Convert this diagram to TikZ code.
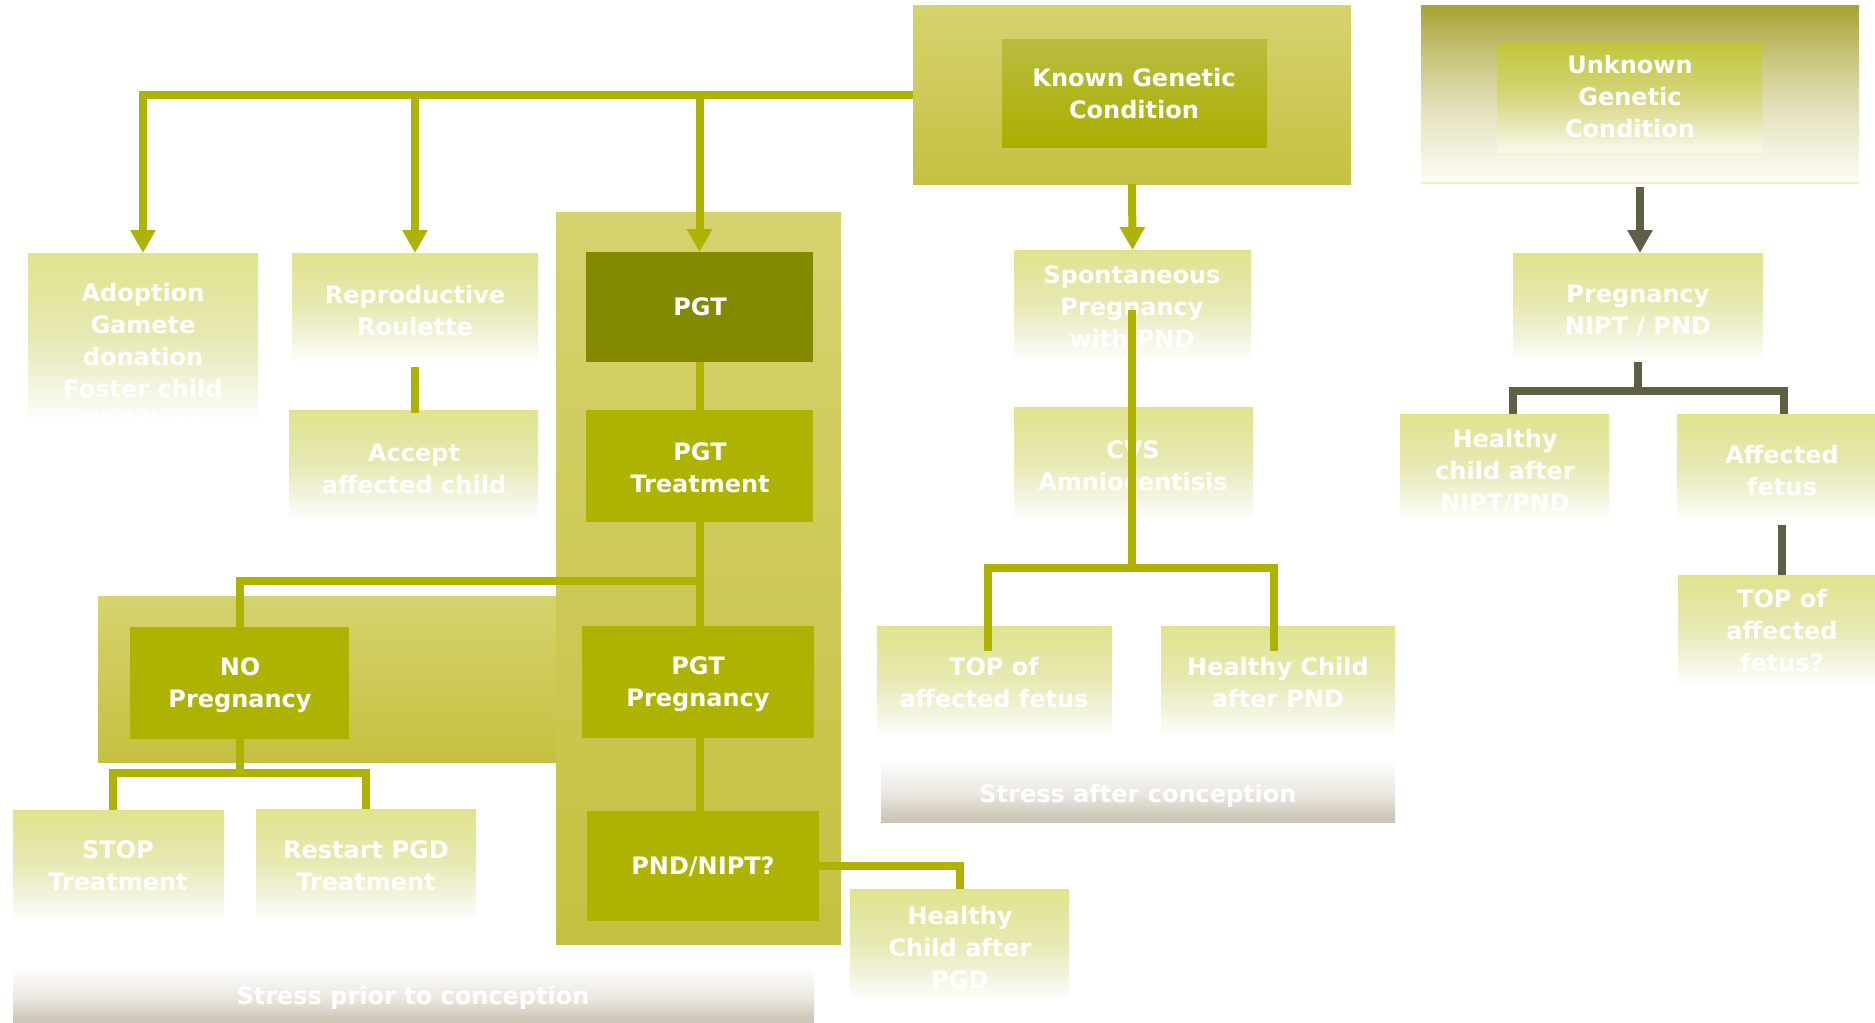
\documentclass[tikz,border=0pt]{standalone}
\usepackage{fontspec}
\setmainfont{DejaVu Sans}
\usetikzlibrary{arrows.meta,fit,calc}

% palette
\definecolor{cOlive}{HTML}{ADB300}
\definecolor{cDark}{HTML}{838A00}
\definecolor{cGrey}{HTML}{5E5F45}
\definecolor{cLight}{HTML}{E0E38D}
\definecolor{cFadeB}{HTML}{E7E9B2}
\definecolor{cFadeA}{HTML}{F3F4DE}
\definecolor{cStress}{HTML}{CBC3B3}
\definecolor{cStressB}{HTML}{D4CEC1}
\definecolor{cStressA}{HTML}{EAE7E0}
\definecolor{cWrapTop}{HTML}{D5D36E}
\definecolor{cWrapMid}{HTML}{D2D14F}
\definecolor{cWrapBot}{HTML}{C4C141}
\definecolor{cKnownTop}{HTML}{B9BD40}
\definecolor{cKnownBot}{HTML}{AAAF00}
\definecolor{cUnkTop}{HTML}{A6A236}
\definecolor{cUnkB}{HTML}{C9C67E}
\definecolor{cUnkA}{HTML}{E5E3BF}
\definecolor{cUnkEnd}{HTML}{FDFDF5}
\definecolor{cUnkLine}{HTML}{F1EEC8}
\definecolor{cUinTop}{HTML}{C1C539}
\definecolor{cUinMid}{HTML}{D6D67E}
\definecolor{cUinEnd}{HTML}{F9F9EE}

% pale boxes fading to white towards the bottom
\pgfdeclareverticalshading{lightfade}{100bp}{color(0bp)=(white); color(25bp)=(white);
  color(36bp)=(cFadeA); color(51bp)=(cFadeB); color(75bp)=(cLight); color(100bp)=(cLight)}
% "stress" bands: white on top, warm grey at the bottom
\pgfdeclareverticalshading{stressfade}{100bp}{color(0bp)=(cStress); color(25bp)=(cStress);
  color(31bp)=(cStressB); color(42bp)=(cStressA); color(63bp)=(white); color(100bp)=(white)}
% unknown-condition panel
\pgfdeclareverticalshading{unkfade}{100bp}{color(0bp)=(cUnkEnd); color(25bp)=(cUnkEnd);
  color(45bp)=(cUnkA); color(60bp)=(cUnkB); color(75bp)=(cUnkTop); color(100bp)=(cUnkTop)}
\pgfdeclareverticalshading{uinfade}{100bp}{color(0bp)=(cUinEnd); color(25bp)=(cUinEnd);
  color(50bp)=(cUinMid); color(75bp)=(cUinTop); color(100bp)=(cUinTop)}

\tikzset{
  area/.style={inner sep=0pt, outer sep=0pt, draw=none},
  wrapbox/.style={area, top color=cWrapTop, middle color=cWrapMid, bottom color=cWrapBot},
  solidbox/.style={area, fill=cOlive},
  darkbox/.style={area, fill=cDark},
  knownbox/.style={area, top color=cKnownTop, bottom color=cKnownBot},
  lightbox/.style={area, shading=lightfade},
  stressbox/.style={area, shading=stressfade},
  unkbox/.style={area, shading=unkfade},
  uinbox/.style={area, shading=uinfade},
  lbl/.style={inner sep=0pt, text=white, align=center,
    font=\bfseries\fontsize{12}{16}\selectfont},
  conn/.style={draw=cOlive, line width=4pt},
  arr/.style={conn, -{Triangle[width=12pt,length=11.5pt]}},
  dconn/.style={draw=cGrey, line width=4pt},
  darr/.style={dconn, -{Triangle[width=12pt,length=11.5pt]}},
}

\begin{document}
\begin{tikzpicture}[x=0.5pt,y=-0.5pt]
\useasboundingbox (0,0) rectangle (1875,1023);
\fill[white] (0,0) rectangle (1875,1023);

% ---- container panels
\node[wrapbox, fit={(913,5) (1351,184)}] (known) {};
\node[wrapbox, fit={(556,212) (841,944)}] (pgtcol) {};
\node[wrapbox, fit={(98,596) (556,762)}] (nowrap) {};
\node[unkbox, fit={(1421,5) (1859,183)}] (unk) {};
\draw[cUnkLine, line width=1pt] (unk.south west) -- (unk.south east);

% ---- strong boxes
\node[knownbox, fit={(1002,39) (1267,147)}] (knownin) {};
\node[uinbox, fit={(1497,43) (1762,152)}] (unkin) {};
\node[darkbox, fit={(586,252) (813,362)}] (pgt) {};
\node[solidbox, fit={(586,410) (813,522)}] (pgtt) {};
\node[solidbox, fit={(582,626) (814,738)}] (pgtp) {};
\node[solidbox, fit={(587,811) (819,921)}] (pnd) {};
\node[solidbox, fit={(130,627) (349,739)}] (nopreg) {};

% ---- pale boxes
\node[lightbox, fit={(28,253) (258,423)}] (adopt) {};
\node[lightbox, fit={(292,253) (538,363)}] (roul) {};
\node[lightbox, fit={(289,410) (538,520)}] (accept) {};
\node[lightbox, fit={(1014,250) (1251,360)}] (spont) {};
\node[lightbox, fit={(1014,407) (1253,520)}] (cvs) {};
\node[lightbox, fit={(877,626) (1112,737)}] (topf) {};
\node[lightbox, fit={(1161,626) (1395,737)}] (hcpnd) {};
\node[lightbox, fit={(13,810) (224,920)}] (stop) {};
\node[lightbox, fit={(256,809) (476,920)}] (restart) {};
\node[lightbox, fit={(850,889) (1069,1000)}] (hcpgd) {};
\node[lightbox, fit={(1513,253) (1763,362)}] (pnipt) {};
\node[lightbox, fit={(1400,414) (1609,522)}] (hcnipt) {};
\node[lightbox, fit={(1677,414) (1875,522)}] (affected) {};
\node[lightbox, fit={(1678,575) (1875,685)}] (topq) {};

% ---- stress bands
\node[stressbox, fit={(881,740) (1395,822)}] (after) {};
\node[stressbox, fit={(13,950) (814,1023)}] (prior) {};

% ---- labels
\node[lbl] (known-t) at (1134,94) {Known Genetic\\Condition};
\node[lbl] (unk-t) at (1630,97) {Unknown\\Genetic\\Condition};
\node[lbl] (adopt-t) at (143,357) {Adoption\\Gamete\\donation\\Foster child\\Childless};
\node[lbl] (roul-t) at (415,311) {Reproductive\\Roulette};
\node[lbl] (accept-t) at (414,469) {Accept\\affected child};
\node[lbl] (pgt-t) at (700,307) {PGT};
\node[lbl] (pgtt-t) at (700,468) {PGT\\Treatment};
\node[lbl] (pgtp-t) at (698,684) {PGT\\Pregnancy};
\node[lbl] (pnd-t) at (703,867) {PND/NIPT?};
\node[lbl] (nopreg-t) at (240,685) {NO\\Pregnancy};
\node[lbl] (stop-t) at (118,866) {STOP\\Treatment};
\node[lbl] (restart-t) at (366,866) {Restart PGD\\Treatment};
\node[lbl] (hcpgd-t) at (960,948) {Healthy\\Child after\\PGD};
\node[lbl] (spont-t) at (1132,307) {Spontaneous\\Pregnancy\\with PND};
\node[lbl] (cvs-t) at (1133,466) {CVS\\Amniocentisis};
\node[lbl] (topf-t) at (994,683) {TOP of\\affected fetus};
\node[lbl] (hcpnd-t) at (1278,683) {Healthy Child\\after PND};
\node[lbl] (after-t) at (1138,796) {Stress after conception};
\node[lbl] (prior-t) at (413,998) {Stress prior to conception};
\node[lbl] (pnipt-t) at (1638,311) {Pregnancy\\NIPT / PND};
\node[lbl] (hcnipt-t) at (1505,471) {Healthy\\child after\\NIPT/PND};
\node[lbl] (affected-t) at (1782,471) {Affected\\fetus};
\node[lbl] (topq-t) at (1782,631) {TOP of\\affected\\fetus?};

% ---- connectors: known condition
\draw[arr] (known.west) -| (adopt.north);
\draw[arr] (known.west) -| (roul.north);
\draw[arr] (known.west) -| (pgt.north);
\draw[arr] (known.south) -- (spont.north);
\draw[conn] ([yshift=-2pt]roul.south) -- ([yshift=-1.5pt]roul.south |- accept.north);

% PGT column
\draw[conn] (pgt.south) -- (pgt.south |- pgtt.north);
\draw[conn] (pgtt.south) -- (pgtt.south |- pgtp.north);
\draw[conn] (pgtp.south -| pgt.south) -- (pnd.north -| pgt.south);
\draw[conn] ([yshift=-29.5pt]pgtt.south) -| (nopreg.north);
\draw[conn] (pnd.east) -| (hcpgd.north);
\draw[conn] (nopreg.south) -- ++(0,34) -| ([xshift=-2.75pt]stop.north);
\draw[conn] (nopreg.south) -- ++(0,34) -| (restart.north);

% spontaneous pregnancy branch
\coordinate (sp-top) at (1132,310);
\coordinate (sp-fork) at (1132,568);
\coordinate (topf-in) at (988,651);
\coordinate (hcpnd-in) at (1274,651);
\draw[conn] (sp-top) -- (sp-fork);
\draw[conn] (sp-fork) -| (topf-in);
\draw[conn] (sp-fork) -| (hcpnd-in);

% ---- connectors: unknown condition
\draw[darr] ([yshift=-2pt]unk.south) -- (unk.south |- pnipt.north);
\draw[dconn] (pnipt.south) -- ++(0,29) -| ([xshift=4pt]hcnipt.north);
\draw[dconn] (pnipt.south) -- ++(0,29) -| ([xshift=4pt]affected.north);
\draw[dconn] ([xshift=3pt,yshift=-1.5pt]affected.south) -- ([xshift=3pt]affected.south |- topq.north);
\end{tikzpicture}
\end{document}
